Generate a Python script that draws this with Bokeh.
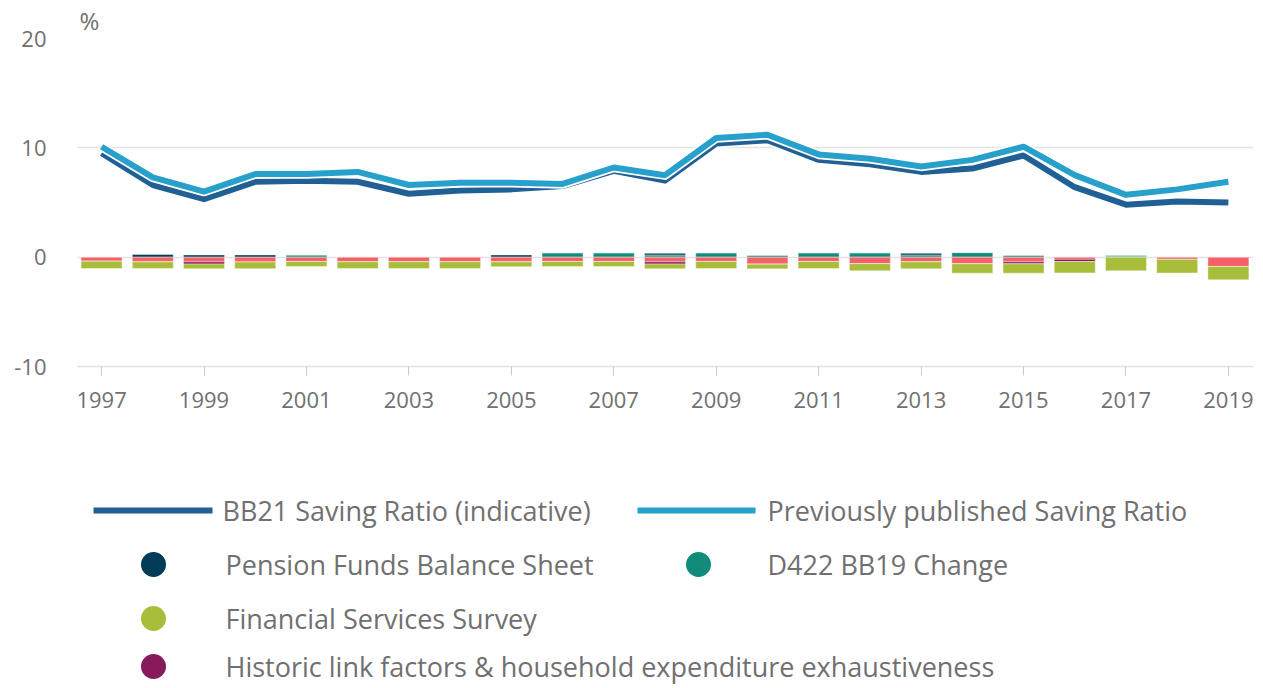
import numpy as np
from bokeh.plotting import figure
from bokeh.layouts import column
from bokeh.models import Range1d, FixedTicker
from bokeh.core.properties import value
from bokeh.embed import file_html
from bokeh.resources import INLINE

years = list(range(1997, 2020))
bb21 = [9.5, 6.6, 5.3, 6.9, 7.0, 6.9, 5.8, 6.1, 6.2, 6.5, 7.9, 7.0, 10.4, 10.7,
        8.9, 8.5, 7.8, 8.1, 9.3, 6.4, 4.8, 5.1, 5.0]
previous = [10.1, 7.3, 6.0, 7.6, 7.6, 7.8, 6.6, 6.8, 6.8, 6.7, 8.2, 7.5, 10.9, 11.2,
            9.4, 9.0, 8.3, 8.9, 10.1, 7.5, 5.7, 6.2, 6.9]
pension = [0, 0.24, 0.2, 0.2, 0, 0, 0, 0, 0.2, 0, 0, 0.15, 0, 0,
           0, 0, 0.15, 0, 0, 0, 0, 0, 0]
d422 = [0, 0, 0, 0, 0.2, 0, 0, 0, 0, 0.4, 0.4, 0.2, 0.4, 0.18,
        0.4, 0.4, 0.2, 0.42, 0.18, 0, 0.18, 0, 0]
fss = [-0.67, -0.6, -0.43, -0.6, -0.45, -0.6, -0.6, -0.6, -0.45, -0.45, -0.45, -0.43,
       -0.64, -0.43, -0.64, -0.64, -0.64, -0.85, -0.85, -1.04, -1.25, -1.25, -1.22]
historic = [0, 0, -0.2, 0, 0, 0, 0, 0, 0, 0, 0, -0.2, 0, 0,
            0, 0, 0, 0, -0.18, -0.2, 0, 0, 0]
other = [-0.37, -0.43, -0.43, -0.45, -0.4, -0.43, -0.43, -0.43, -0.43, -0.4, -0.4, -0.43,
         -0.4, -0.64, -0.4, -0.6, -0.43, -0.61, -0.43, -0.2, 0, -0.2, -0.85]
y_ticks = [-10, 0, 10, 20]
x_ticks = list(range(1997, 2020, 2))

C_BB21 = "#206095"
C_PREV = "#27a0cc"
C_NAVY = "#003c57"
C_TEAL = "#118c7b"
C_GREEN = "#a8bd3a"
C_PURPLE = "#871a5b"
C_CORAL = "#f66068"
TXT = "#707070"
FONT = "Open Sans"

W = 1263
H1 = 448
H2 = 238
BL, BR = 77, 10

p = figure(width=W, height=H1, output_backend="svg", toolbar_location=None,
           x_range=Range1d(1996.53, 2019.49), y_range=Range1d(-10, 20),
           min_border_left=BL, min_border_right=BR, min_border_top=38,
           min_border_bottom=H1 - 366)
p.title.text = "%"
p.title.align = "left"
p.title.text_font = FONT
p.title.text_font_size = "24px"
p.title.text_font_style = "normal"
p.title.text_color = TXT
p.title.offset = 2
p.title.standoff = 3
p.outline_line_color = None
p.background_fill_color = "white"
p.xgrid.grid_line_color = None
p.ygrid.grid_line_color = "#e3e3e3"
p.ygrid.grid_line_width = 1.5
p.yaxis.ticker = FixedTicker(ticks=y_ticks)
p.yaxis.major_label_overrides = {t: str(t) for t in y_ticks}
p.yaxis.axis_line_color = None
p.yaxis.major_tick_line_color = None
p.yaxis.minor_tick_line_color = None
p.yaxis.major_label_standoff = 25
p.xaxis.ticker = FixedTicker(ticks=x_ticks)
p.xaxis.axis_line_color = "#e3e3e3"
p.xaxis.axis_line_width = 1.5
p.xaxis.major_tick_line_color = "#cccccc"
p.xaxis.major_tick_in = 0
p.xaxis.major_tick_out = 9
p.xaxis.minor_tick_line_color = None
p.xaxis.major_label_standoff = 16
for ax in (p.xaxis, p.yaxis):
    ax.major_label_text_font = FONT
    ax.major_label_text_font_size = "22px"
    ax.major_label_text_color = TXT

# stacked bars
x = np.array(years, dtype=float)
pos_series = [(d422, C_TEAL), (pension, C_NAVY)]
neg_series = [(other, C_CORAL), (historic, C_PURPLE), (fss, C_GREEN)]
base = np.zeros(len(years))
for vals, col in pos_series:
    v = np.array(vals, dtype=float)
    p.vbar(x=x, bottom=base, top=base + v, width=0.8, fill_color=col,
           line_color="white", line_width=0.4)
    base = base + v
base = np.zeros(len(years))
for vals, col in neg_series:
    v = np.array(vals, dtype=float)
    p.vbar(x=x, top=base, bottom=base + v, width=0.8, fill_color=col,
           line_color="white", line_width=0.4)
    base = base + v

# lines with white border
for vals, col in [(bb21, C_BB21), (previous, C_PREV)]:
    p.line(years, vals, line_color="white", line_width=9.5, line_join="round")
    p.line(years, vals, line_color=col, line_width=6, line_join="round")

# legend figure: data coordinates equal page pixels
lg = figure(width=W, height=H2, output_backend="svg", toolbar_location=None,
            x_range=Range1d(BL, W - BR), y_range=Range1d(H1 + H2, H1),
            min_border_left=BL, min_border_right=BR,
            min_border_top=0, min_border_bottom=0)
lg.axis.visible = False
lg.grid.visible = False
lg.outline_line_color = None

LEG_FS = "27px"
line_items = [("BB21 Saving Ratio (indicative)", C_BB21, 93, 212, 222, 510),
              ("Previously published Saving Ratio", C_PREV, 637, 755, 767, 510)]
for label, col, x0, x1, tx, yy in line_items:
    lg.line([x0, x1], [yy, yy], line_color=col, line_width=6)
    lg.text(x=[tx], y=[yy], text=[label], text_font=value(FONT), text_font_size=LEG_FS,
            text_color=TXT, text_baseline="middle")

dot_items = [("Pension Funds Balance Sheet", C_NAVY, 153, 225, 564),
             ("D422 BB19 Change", C_TEAL, 698, 767, 564),
             ("Financial Services Survey", C_GREEN, 153, 225, 618),
             ("Historic link factors & household expenditure exhaustiveness", C_PURPLE, 153, 225, 666)]
for label, col, cx, tx, yy in dot_items:
    lg.scatter([cx], [yy], size=25, marker="circle", fill_color=col, line_color=None)
    lg.text(x=[tx], y=[yy], text=[label], text_font=value(FONT), text_font_size=LEG_FS,
            text_color=TXT, text_baseline="middle")

layout = column(p, lg, spacing=0)
open("out.html", "w").write(file_html(layout, INLINE))
